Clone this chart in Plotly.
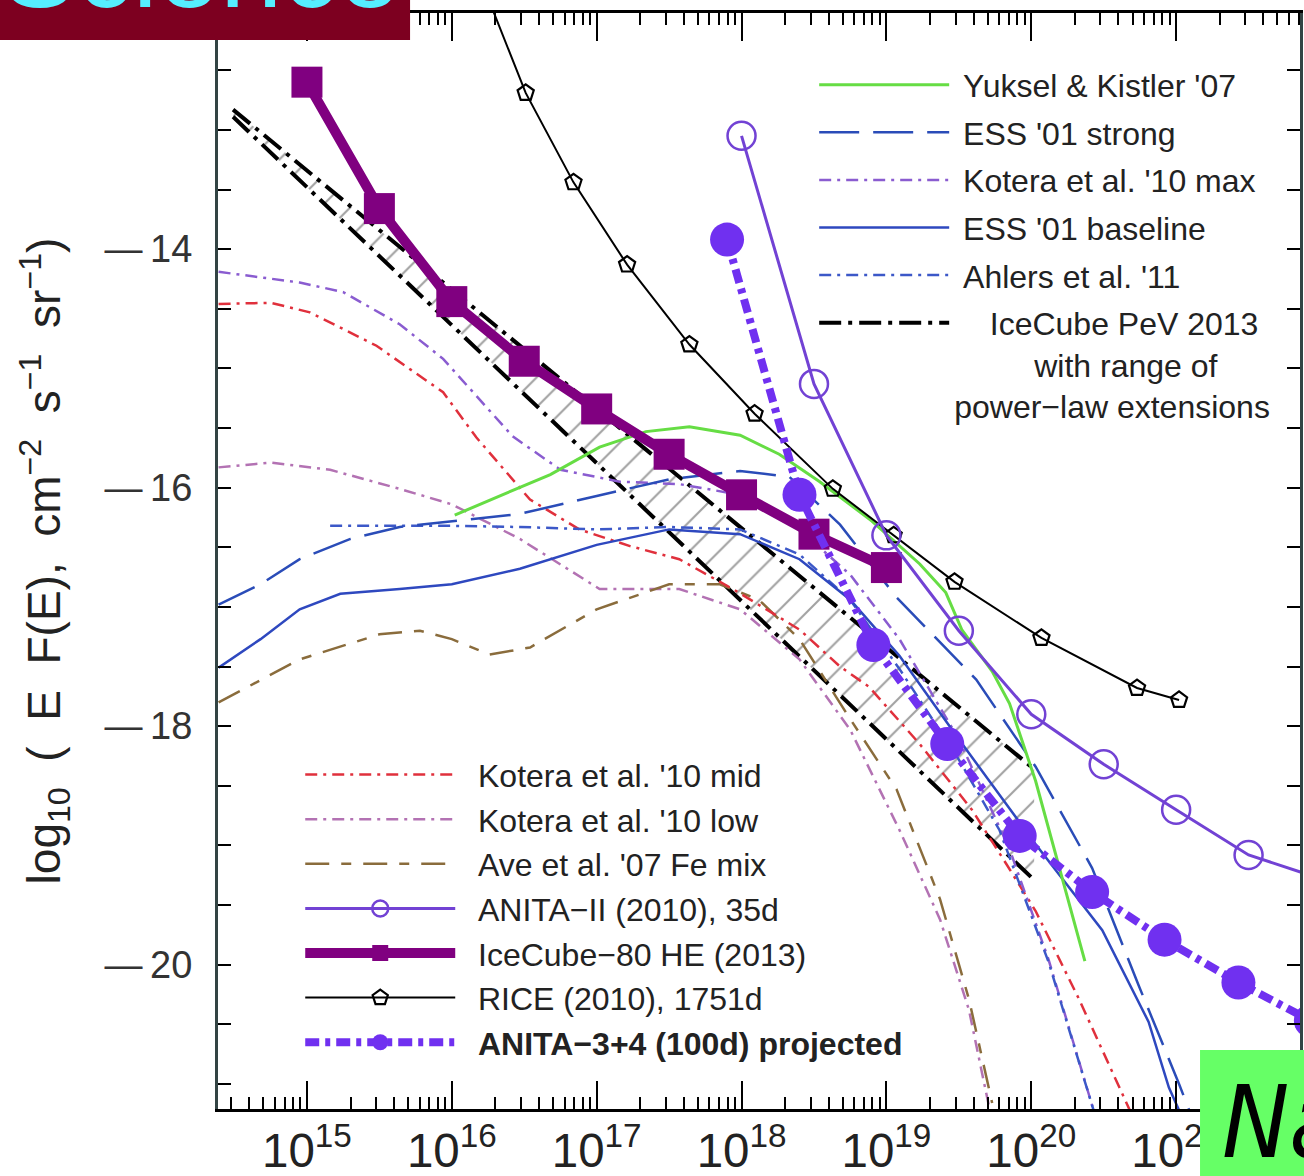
import numpy as np
import plotly.graph_objects as go

# ---------------- data (log10 E [eV], log10 E F(E)) ----------------
icecube80_lx = [15.0, 15.5, 16.0, 16.5, 17.0, 17.5, 18.0, 18.5, 19.0]
icecube80_ly = [-12.60, -13.66, -14.44, -14.94, -15.34, -15.72, -16.06, -16.39, -16.67]

rice_lx = [16.19, 16.51, 16.84, 17.21, 17.64, 18.09, 18.63, 19.05, 19.47, 20.07, 20.73, 21.02]
rice_ly = [-11.71, -12.69, -13.44, -14.13, -14.80, -15.38, -16.01, -16.40, -16.79, -17.26, -17.68, -17.78]

anita2_lx = [18.0, 18.5, 19.0, 19.5, 20.0, 20.5, 21.0, 21.5, 22.0]
anita2_ly = [-13.05, -15.13, -16.40, -17.20, -17.90, -18.32, -18.70, -19.08, -19.28]

anita34_lx = [17.90, 18.40, 18.91, 19.42, 19.92, 20.42, 20.92, 21.43, 21.93]
anita34_ly = [-13.92, -16.06, -17.32, -18.15, -18.92, -19.39, -19.79, -20.15, -20.47]

yuksel_lx = [16.02, 16.33, 16.68, 17.02, 17.34, 17.64, 17.99, 18.26, 18.54, 18.90, 19.23,
             19.41, 19.52, 19.73, 19.85, 20.03, 20.19, 20.37]
yuksel_ly = [-16.23, -16.07, -15.89, -15.66, -15.53, -15.49, -15.56, -15.72, -15.95, -16.28, -16.64,
             -16.88, -17.19, -17.54, -17.81, -18.46, -19.16, -19.97]

pev_lx = [14.49, 20.02]
pev_upper_ly = [-12.83, -18.36]
pev_lower_ly = [-12.89, -19.29]

kmax_lx = [14.39, 14.95, 15.25, 15.64, 15.94, 16.42, 16.75, 17.16, 17.57, 17.99, 18.40, 18.75,
           19.09, 19.50, 19.85, 20.12, 20.43]
kmax_ly = [-14.19, -14.28, -14.36, -14.63, -14.92, -15.57, -15.85, -15.95, -15.97, -16.06, -16.35,
           -16.73, -17.27, -18.11, -19.03, -19.96, -21.22]

klow_lx = [14.39, 14.75, 15.16, 15.64, 16.0, 16.47, 17.02, 17.57, 17.99, 18.40, 18.75, 19.09,
           19.37, 19.57, 19.71]
klow_ly = [-15.83, -15.79, -15.85, -16.01, -16.14, -16.43, -16.85, -16.85, -17.02, -17.44, -18.03,
           -18.87, -19.62, -20.38, -21.20]

kmid_lx = [14.39, 14.75, 15.02, 15.48, 15.94, 16.17, 16.54, 16.88, 17.23, 17.57, 17.94, 18.40,
           18.68, 18.88, 19.23, 19.59, 19.83, 20.03, 20.33, 20.68]
kmid_ly = [-14.46, -14.45, -14.53, -14.81, -15.20, -15.58, -16.10, -16.35, -16.49, -16.60, -16.85,
           -17.19, -17.50, -17.67, -18.15, -18.70, -19.16, -19.55, -20.29, -21.22]

ess_strong_lx = [14.39, 14.68, 14.95, 15.30, 15.64, 16.0, 16.47, 17.0, 17.50, 17.99, 18.33, 18.68,
                 19.07, 19.62, 20.03, 20.42, 20.74, 21.02, 21.09]
ess_strong_ly = [-16.98, -16.81, -16.60, -16.43, -16.33, -16.28, -16.22, -16.07, -15.93, -15.86,
                 -15.91, -16.31, -16.92, -17.61, -18.34, -19.19, -20.17, -21.00, -21.22]

ess_base_lx = [14.39, 14.68, 14.95, 15.23, 15.64, 16.0, 16.47, 17.0, 17.50, 17.99, 18.40, 18.75,
               19.09, 19.50, 20.03, 20.49, 20.81, 20.95, 21.02]
ess_base_ly = [-17.51, -17.27, -17.02, -16.89, -16.85, -16.81, -16.68, -16.48, -16.35, -16.39,
               -16.60, -16.94, -17.41, -18.11, -18.99, -19.71, -20.48, -21.03, -21.22]

ahlers_lx = [15.16, 15.64, 16.0, 16.47, 17.0, 17.50, 17.99, 18.40, 18.75, 19.09, 19.50, 19.78,
             20.12, 20.43]
ahlers_ly = [-16.32, -16.32, -16.32, -16.33, -16.35, -16.33, -16.35, -16.56, -16.94, -17.52,
             -18.28, -18.87, -19.98, -21.22]

ave_lx = [14.39, 14.68, 14.95, 15.50, 15.78, 16.0, 16.26, 16.54, 17.0, 17.50, 17.85, 18.12, 18.40,
          18.75, 19.07, 19.37, 19.57, 19.73]
ave_ly = [-17.80, -17.61, -17.44, -17.23, -17.20, -17.27, -17.40, -17.34, -17.02, -16.81, -16.81,
          -16.94, -17.27, -17.94, -18.53, -19.45, -20.29, -21.16]

y_tickvals = [-20, -18, -16, -14]
y_ticktext = ["\u2014\u200920", "\u2014\u200918", "\u2014\u200916", "\u2014\u200914"]


def E(lx):
    return 10 ** np.array(lx, dtype=float)


FONT = "Liberation Sans, Arial, sans-serif"
fig = go.Figure()

NB = "\u00a0"
pev_name = (NB * 3 + "IceCube PeV 2013<br>" + NB * 9 + "with range of<br>power\u2212law extensions")

# IceCube PeV range (upper & lower power-law) with hatching
fig.add_trace(go.Scatter(x=E(pev_lx), y=pev_upper_ly, mode="lines", name=NB + pev_name,
                         line=dict(color="black", width=4, dash="22px,7px,4px,7px"),
                         legend="legend", legendrank=6, legendgroup="pev"))
fig.add_trace(go.Scatter(x=E(pev_lx), y=pev_lower_ly, mode="lines", showlegend=False,
                         line=dict(color="black", width=4, dash="22px,7px,4px,7px"),
                         fill="tonexty", fillcolor="rgba(255,255,255,0)",
                         fillpattern=dict(shape="/", fgcolor="#444444", bgcolor="rgba(255,255,255,0)",
                                          size=21, solidity=0.1),
                         legendgroup="pev"))

models = [
    ("Kotera et al. '10 low", klow_lx, klow_ly, "#b372b3", 2.5, "12px,6px,3px,6px", "legend2", 2),
    ("Ave et al. '07 Fe mix", ave_lx, ave_ly, "#8a6c3c", 2.5, "24px,12px,10px,12px", "legend2", 3),
    ("Kotera et al. '10 mid", kmid_lx, kmid_ly, "#e0303c", 2.5, "12px,6px,3px,6px", "legend2", 1),
    ("Kotera et al. '10 max", kmax_lx, kmax_ly, "#8a5cd0", 2.5, "12px,6px,3px,6px", "legend", 3),
    ("Ahlers et al. '11", ahlers_lx, ahlers_ly, "#3c58c8", 2.5, "12px,6px,3px,6px", "legend", 5),
    ("ESS '01 baseline", ess_base_lx, ess_base_ly, "#2e48bf", 2.5, "solid", "legend", 4),
    ("ESS '01 strong", ess_strong_lx, ess_strong_ly, "#2a4cb8", 2.5, "40px,14px", "legend", 2),
    ("Yuksel & Kistler '07", yuksel_lx, yuksel_ly, "#66dd44", 3, "solid", "legend", 1),
]
for name, lx, ly, col, w, dash, lg, rank in models:
    pad = NB * 2 if lg == "legend2" else NB
    fig.add_trace(go.Scatter(x=E(lx), y=ly, mode="lines", name=pad + name,
                             line=dict(color=col, width=w, dash=dash),
                             legend=lg, legendrank=rank, legendgroup=name))

fig.add_trace(go.Scatter(x=E(icecube80_lx), y=icecube80_ly, mode="lines+markers",
                         name=NB * 2 + "IceCube\u221280 HE (2013)",
                         line=dict(color="#800080", width=10),
                         marker=dict(symbol="square", size=31, color="#800080"),
                         legend="legend2", legendrank=5, legendgroup="ic80"))
fig.add_trace(go.Scatter(x=E(rice_lx), y=rice_ly, mode="lines+markers",
                         name=NB * 2 + "RICE (2010), 1751d",
                         line=dict(color="black", width=2),
                         marker=dict(symbol="pentagon-open", size=17, color="black",
                                     line=dict(width=2.2, color="black")),
                         legend="legend2", legendrank=6, legendgroup="rice"))
fig.add_trace(go.Scatter(x=E(anita2_lx), y=anita2_ly, mode="lines+markers",
                         name=NB * 2 + "ANITA\u2212II (2010), 35d",
                         line=dict(color="#7242d4", width=3),
                         marker=dict(symbol="circle-open", size=28, color="#7242d4",
                                     line=dict(width=2.5, color="#7242d4")),
                         legend="legend2", legendrank=4, legendgroup="anita2"))
fig.add_trace(go.Scatter(x=E(anita34_lx), y=anita34_ly, mode="lines+markers",
                         name=NB * 2 + "<b>ANITA\u22123+4 (100d) projected</b>",
                         line=dict(color="#7030f0", width=8, dash="14px,6px,5px,6px"),
                         marker=dict(symbol="circle", size=34, color="#7030f0"),
                         legend="legend2", legendrank=7, legendgroup="anita34"))

# overlay labels (publisher tags)
fig.add_shape(type="rect", xref="paper", yref="paper", x0=-0.25, x1=0.1775, y0=0.9754, y1=1.05,
              fillcolor="#7d0020", line=dict(width=0), layer="above")
fig.add_annotation(text="Science", xref="paper", yref="paper", x=-0.2015, y=0.982,
                   xanchor="left", yanchor="bottom", showarrow=False,
                   font=dict(family=FONT, size=112, color="#55eeff"))
fig.add_shape(type="rect", xref="paper", yref="paper", x0=0.9076, x1=1.05, y0=-0.08, y1=0.0538,
              fillcolor="#66ff66", line=dict(width=0), layer="above")
fig.add_annotation(text="<i>Nature</i>", xref="paper", yref="paper", x=0.926, y=-0.0675,
                   xanchor="left", yanchor="bottom", showarrow=False,
                   font=dict(family="Liberation Sans Narrow, DejaVu Sans Condensed, sans-serif",
                             size=100, color="black"))

ytitle = ("log<sub>10</sub>" + NB * 2 + "(" + NB * 2 + "E" + NB * 2 + "F(E)," + NB * 2 +
          "cm<sup>\u22122</sup>" + NB * 2 + "s<sup>\u22121</sup>" + NB * 2 + "sr<sup>\u22121</sup>)")

fig.update_layout(
    width=1304, height=1176,
    margin=dict(l=218, r=4, t=13, b=67),
    paper_bgcolor="white", plot_bgcolor="white",
    font=dict(family=FONT, color="#222222"),
    legend=dict(x=0.551, y=0.9595, xanchor="left", yanchor="top", bgcolor="rgba(0,0,0,0)",
                font=dict(size=32, family=FONT, color="#222222"), itemwidth=130,
                traceorder="grouped", tracegroupgap=3, valign="top"),
    legend2=dict(x=0.076, y=0.330, xanchor="left", yanchor="top", bgcolor="rgba(0,0,0,0)",
                 font=dict(size=32, family=FONT, color="#222222"), itemwidth=150,
                 traceorder="grouped", tracegroupgap=0),
)
fig.update_xaxes(type="log", range=[14.386, 21.855], dtick=1, exponentformat="power",
                 showexponent="all", ticks="inside", ticklen=28, tickwidth=2, tickcolor="black",
                 minor=dict(ticks="inside", ticklen=12, tickwidth=2, tickcolor="black", dtick="D1",
                            showgrid=False),
                 showline=True, linewidth=3, linecolor="black", mirror="allticks",
                 showgrid=False, zeroline=False, ticklabelstandoff=0, automargin=False,
                 tickfont=dict(size=38, family=FONT, color="#222222"))
fig.update_yaxes(range=[-21.21, -12.02], tickmode="array", tickvals=y_tickvals, ticktext=y_ticktext,
                 ticks="inside", ticklen=13, tickwidth=2, tickcolor="black",
                 minor=dict(ticks="inside", ticklen=13, tickwidth=2, tickcolor="black", dtick=0.5,
                            tick0=-20, showgrid=False),
                 showline=True, linewidth=3, linecolor="#334444", mirror="allticks",
                 showgrid=False, zeroline=False, ticklabelstandoff=15, automargin=False,
                 tickfont=dict(size=38, family=FONT, color="#333333"),
                 title=dict(text=ytitle, font=dict(size=46, family=FONT, color="#222222"), standoff=30))

fig.write_html("out.html")
